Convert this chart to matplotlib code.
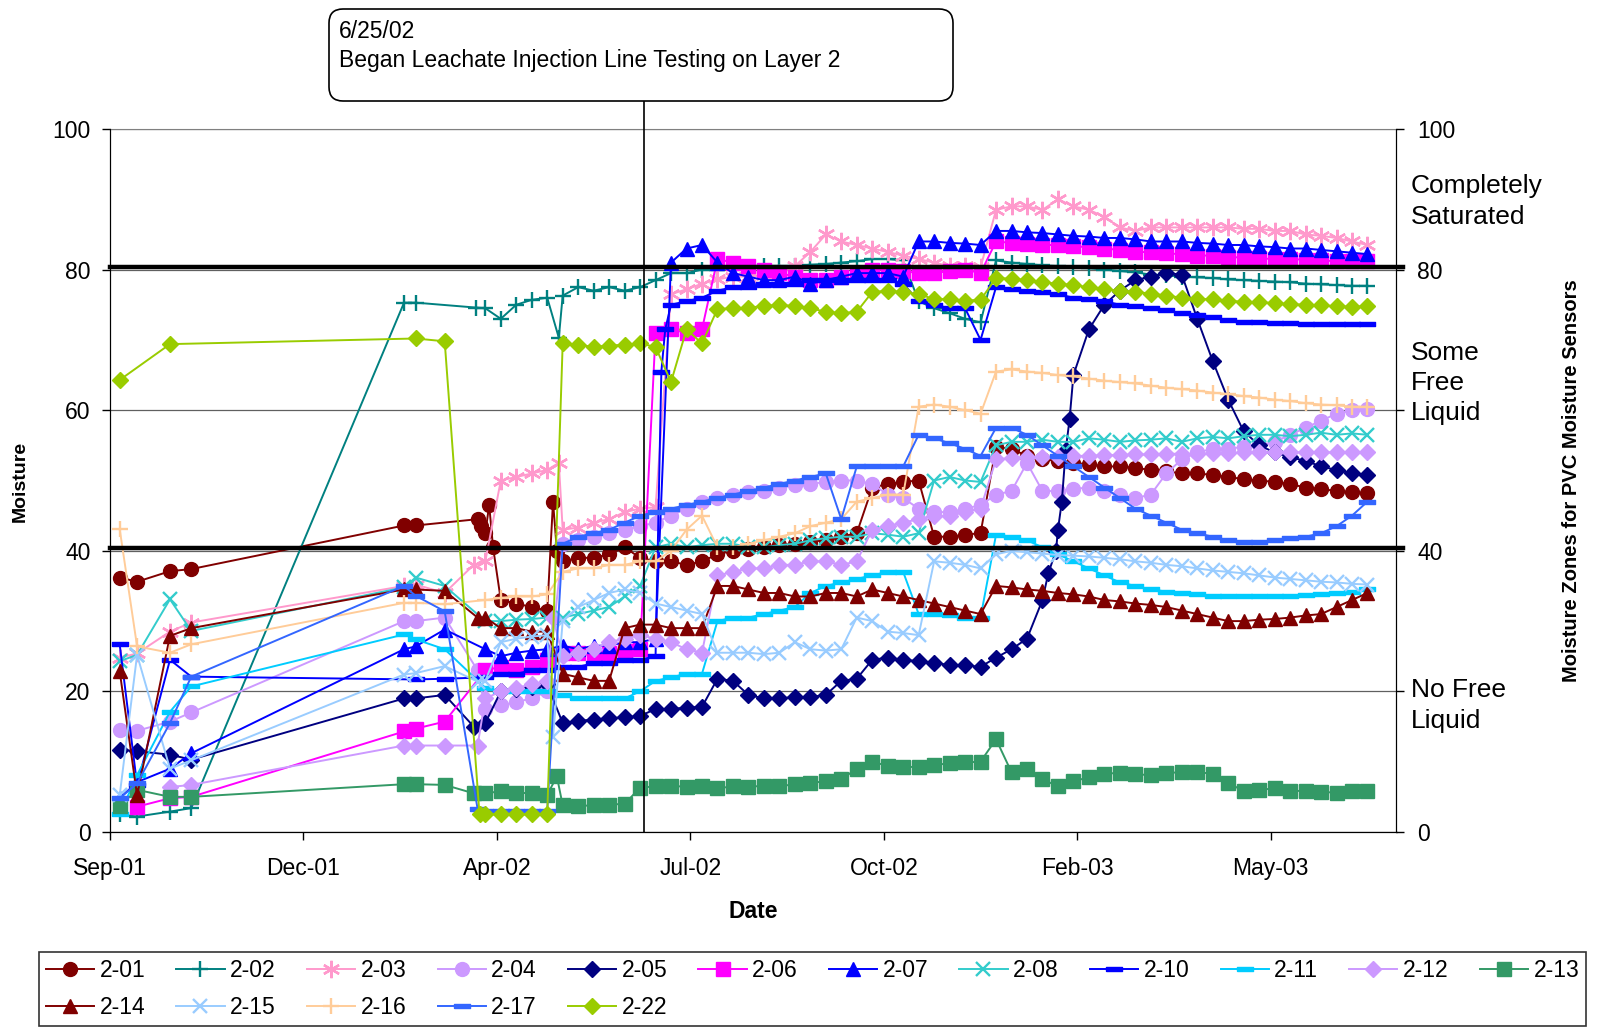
import numpy as np
import matplotlib
matplotlib.use("Agg")
import matplotlib.pyplot as plt
import matplotlib.dates as mdates
from matplotlib.patches import FancyBboxPatch
from matplotlib.transforms import IdentityTransform, blended_transform_factory

plt.rcParams['font.family'] = ['Liberation Sans', 'DejaVu Sans']

# readings are kept as days after the first axis tick (22 Sep 2001)
start = np.datetime64('2001-09-22')
# dense logger period, one reading every 8 days
grid_days = np.arange(194, 651, 8)

# ---- 2-01
e201_days = [5, 14, 31, 42, 152, 158, 190, 192, 196, 198, 229, 231]
e201_vals = [36.2, 35.6, 37.1, 37.4, 43.6, 43.6, 44.5, 43.5, 46.5, 40.5, 47.0, 40.0]
g201 = [42.5, 33.0, 32.5, 32.0, 31.5, 38.5, 39.0, 39.0, 39.5, 40.5,
        39.0, 38.5, 38.5, 38.0, 38.5, 39.5, 40.0, 40.3, 40.5, 40.8,
        41.0, 41.3, 41.5, 42.0, 42.5, 49.0, 49.5, 49.8, 50.0, 42.0,
        42.0, 42.3, 42.5, 54.8, 54.5, 53.5, 53.0, 52.8, 52.5, 52.3,
        52.0, 52.0, 51.8, 51.5, 51.3, 51.0, 51.0, 50.8, 50.5, 50.2,
        50.0, 49.8, 49.5, 49.0, 48.8, 48.5, 48.3, 48.2]
# ---- 2-02
e202_days = [5, 14, 31, 42, 152, 158, 189, 232]
e202_vals = [2.5, 2.2, 2.9, 3.4, 75.3, 75.3, 74.6, 70.3]
g202 = [74.5, 73.0, 75.0, 75.7, 76.0, 76.3, 77.5, 77.0, 77.5, 77.0,
        77.5, 78.5, 79.5, 79.5, 80.0, 80.0, 80.2, 80.3, 80.5, 80.5,
        80.5, 80.7, 80.8, 81.0, 81.2, 81.5, 81.5, 81.3, 75.5, 74.5,
        73.8, 73.0, 72.5, 81.3, 81.0, 80.8, 80.6, 80.5, 80.3, 80.2,
        80.0, 79.8, 79.6, 79.3, 79.2, 79.0, 78.9, 78.8, 78.6, 78.5,
        78.4, 78.3, 78.2, 78.0, 77.9, 77.8, 77.7, 77.7]
# ---- 2-03
e203_days = [5, 14, 31, 42, 152, 158, 173, 188, 232]
e203_vals = [24.8, 25.4, 28.5, 29.8, 35.0, 35.2, 34.0, 38.0, 52.5]
g203 = [38.5, 50.0, 50.5, 51.0, 51.5, 43.0, 43.3, 44.0, 44.5, 45.5,
        46.0, 46.2, 76.5, 77.2, 78.0, 78.6, 79.0, 79.0, 79.2, 79.5,
        80.5, 82.5, 85.0, 84.0, 83.5, 83.0, 82.5, 82.0, 81.5, 81.0,
        80.5, 80.5, 80.3, 88.5, 89.0, 89.0, 88.5, 90.0, 89.0, 88.5,
        87.5, 86.0, 85.5, 86.0, 86.0, 86.0, 86.0, 86.0, 86.0, 85.8,
        85.8, 85.5, 85.5, 85.0, 84.8, 84.5, 84.0, 83.5]
# ---- 2-04
e204_days = [5, 14, 31, 42, 152, 158, 173, 190]
e204_vals = [14.5, 14.4, 15.7, 17.0, 30.0, 30.0, 30.5, 23.0]
g204 = [17.5, 18.0, 18.5, 19.0, 20.0, 41.0, 41.5, 42.0, 42.5, 43.0,
        43.5, 44.0, 45.0, 46.0, 47.0, 47.5, 48.0, 48.3, 48.5, 49.0,
        49.3, 49.5, 49.8, 50.0, 50.0, 49.5, 48.0, 47.5, 46.0, 45.5,
        45.5, 46.0, 46.5, 48.0, 48.5, 52.5, 48.5, 48.5, 48.8, 49.0,
        48.5, 48.0, 47.5, 48.0, 51.0, 53.0, 54.0, 54.5, 54.5, 54.8,
        55.0, 55.5, 56.5, 57.5, 58.5, 59.5, 60.0, 60.2]
# ---- 2-05
e205_days = [5, 14, 31, 42, 152, 158, 173, 188, 485, 489, 492, 494, 496]
e205_vals = [11.7, 11.5, 11.0, 10.3, 19.0, 19.0, 19.5, 15.0, 36.8, 40.0, 47.0, 54.3, 58.7]
g205 = [15.5, 20.0, 20.3, 20.6, 21.0, 15.5, 15.8, 16.0, 16.2, 16.3,
        16.5, 17.5, 17.5, 17.7, 17.8, 21.8, 21.5, 19.5, 19.0, 19.0,
        19.2, 19.2, 19.5, 21.5, 21.8, 24.5, 24.8, 24.5, 24.3, 24.0,
        23.8, 23.7, 23.5, 24.8, 26.0, 27.5, 33.0, 43.0, 65.0, 71.5,
        75.0, 77.0, 78.5, 79.0, 79.5, 79.3, 73.0, 67.0, 61.5, 57.0,
        55.0, 54.0, 53.3, 52.8, 52.0, 51.5, 51.0, 50.8]
# ---- 2-06
e206_days = [14, 31, 42, 152, 158, 173]
e206_vals = [3.6, 4.8, 5.0, 14.3, 14.7, 15.7]
g206 = [23.0, 23.5, 23.0, 23.5, 24.5, 25.5, 25.5, 25.0, 25.5, 25.8,
        26.0, 71.0, 71.5, 71.0, 71.5, 81.5, 81.0, 80.5, 80.0, 79.5,
        79.0, 78.5, 78.5, 79.0, 79.5, 80.0, 80.0, 79.8, 79.5, 79.5,
        79.8, 80.0, 79.5, 84.0, 83.8, 83.6, 83.5, 83.5, 83.3, 83.2,
        83.0, 82.8, 82.5, 82.5, 82.3, 82.2, 82.0, 82.0, 81.8, 81.7,
        81.6, 81.5, 81.5, 81.4, 81.3, 81.2, 81.2, 81.2]
# ---- 2-07
e207_days = [5, 14, 31, 42, 152, 158, 173]
e207_vals = [4.8, 7.1, 9.0, 11.2, 26.0, 26.4, 28.8]
g207 = [26.0, 25.0, 25.5, 25.8, 26.0, 26.5, 26.0, 26.5, 26.5, 27.0,
        27.0, 27.5, 81.0, 83.0, 83.5, 81.0, 79.5, 79.0, 78.5, 78.5,
        79.0, 78.0, 78.5, 79.0, 79.5, 79.5, 79.5, 79.0, 84.0, 84.0,
        83.8, 83.7, 83.5, 85.5, 85.5, 85.3, 85.2, 85.0, 84.8, 84.7,
        84.5, 84.5, 84.3, 84.0, 84.0, 84.0, 83.8, 83.7, 83.5, 83.5,
        83.3, 83.2, 83.0, 83.0, 82.8, 82.6, 82.4, 82.2]
# ---- 2-08
e208_days = [5, 14, 31, 42, 152, 158, 173]
e208_vals = [24.3, 25.2, 33.1, 28.6, 34.8, 36.2, 35.0]
g208 = [30.0, 30.0, 30.2, 30.3, 30.5, 30.5, 31.0, 31.5, 32.0, 33.5,
        35.0, 40.5, 41.0, 40.5, 40.8, 41.0, 41.0, 40.5, 40.5, 40.8,
        41.0, 41.5, 41.8, 42.0, 42.0, 42.5, 42.3, 42.0, 42.5, 50.0,
        50.5, 50.0, 49.8, 55.0, 55.5, 55.5, 55.8, 55.5, 55.5, 56.0,
        55.8, 55.5, 55.7, 55.8, 56.0, 55.5, 56.0, 56.2, 56.0, 56.3,
        56.5, 56.5, 56.3, 56.5, 56.8, 56.5, 56.7, 56.5]
# ---- 2-10
e210_days = [5, 14, 31, 42, 158, 173, 285, 287]
e210_vals = [26.7, 6.7, 24.5, 22.1, 21.7, 21.8, 65.5, 71.5]
g210 = [22.0, 22.5, 22.5, 23.0, 23.0, 23.5, 23.5, 24.0, 24.0, 24.5,
        24.5, 25.0, 75.0, 75.5, 76.0, 77.0, 77.5, 77.5, 78.0, 78.0,
        78.0, 78.5, 78.5, 78.5, 78.5, 78.5, 78.5, 78.0, 75.5, 75.0,
        74.5, 74.5, 70.0, 77.5, 77.3, 77.0, 76.8, 76.5, 76.0, 75.8,
        75.5, 75.0, 74.8, 74.5, 74.2, 73.8, 73.5, 73.2, 72.8, 72.6,
        72.5, 72.4, 72.4, 72.3, 72.3, 72.3, 72.3, 72.3]
# ---- 2-11
e211_days = [5, 14, 31, 42, 152, 158, 173]
e211_vals = [2.5, 8.1, 17.1, 20.7, 28.1, 27.4, 26.0]
g211 = [20.5, 20.0, 20.0, 20.0, 20.0, 19.5, 19.0, 19.0, 19.0, 19.0,
        20.0, 21.5, 22.0, 22.5, 22.5, 30.0, 30.5, 30.5, 31.0, 31.5,
        32.0, 34.0, 35.0, 35.5, 36.0, 36.5, 37.0, 37.0, 31.0, 31.0,
        30.8, 30.5, 30.5, 42.3, 42.0, 41.5, 40.5, 39.5, 38.5, 37.5,
        36.5, 35.5, 35.0, 34.5, 34.2, 34.0, 33.8, 33.6, 33.5, 33.5,
        33.5, 33.5, 33.6, 33.7, 33.8, 34.0, 34.2, 34.5]
# ---- 2-12
e212_days = [31, 42, 152, 158, 173, 190, 229]
e212_vals = [6.4, 6.7, 12.3, 12.3, 12.3, 12.3, 30.5]
g212 = [19.0, 20.0, 20.5, 21.0, 21.5, 25.0, 25.5, 26.0, 27.0, 27.5,
        28.0, 27.5, 27.0, 26.0, 25.5, 36.5, 37.0, 37.5, 37.5, 38.0,
        38.0, 38.5, 38.5, 38.0, 38.5, 43.0, 43.5, 44.0, 44.5, 45.0,
        45.0, 45.5, 46.0, 53.0, 53.2, 53.3, 53.3, 53.4, 53.5, 53.5,
        53.6, 53.6, 53.7, 53.7, 53.8, 53.8, 53.8, 53.9, 53.9, 54.0,
        54.0, 54.0, 54.0, 54.0, 54.0, 54.0, 54.0, 54.0]
# ---- 2-13
e213_days = [5, 14, 31, 42, 152, 158, 173, 188, 231]
e213_vals = [3.7, 6.0, 5.0, 5.0, 6.8, 6.8, 6.7, 5.5, 7.9]
g213 = [5.5, 5.8, 5.6, 5.5, 5.3, 3.8, 3.7, 3.8, 3.9, 4.0,
        6.3, 6.5, 6.6, 6.4, 6.5, 6.2, 6.5, 6.4, 6.6, 6.5,
        6.8, 7.0, 7.2, 7.5, 9.0, 10.0, 9.4, 9.2, 9.3, 9.5,
        9.8, 9.9, 10.0, 13.2, 8.5, 9.0, 7.5, 6.5, 7.2, 7.8,
        8.3, 8.4, 8.2, 8.1, 8.4, 8.5, 8.5, 8.3, 7.0, 5.8,
        6.0, 6.2, 5.9, 5.8, 5.7, 5.6, 5.8, 5.9]
# ---- 2-14
e214_days = [5, 14, 31, 42, 152, 158, 173, 190]
e214_vals = [22.9, 5.2, 27.9, 29.0, 34.5, 34.5, 34.3, 30.5]
g214 = [30.5, 29.0, 29.0, 28.5, 28.5, 22.5, 22.0, 21.5, 21.5, 29.0,
        29.5, 29.5, 29.0, 29.0, 29.0, 35.0, 35.0, 34.5, 34.0, 34.0,
        33.5, 33.5, 34.0, 34.0, 33.5, 34.5, 34.0, 33.5, 33.0, 32.5,
        32.0, 31.5, 31.0, 35.0, 34.8, 34.5, 34.3, 34.0, 33.8, 33.5,
        33.0, 32.8, 32.5, 32.3, 32.0, 31.5, 31.0, 30.5, 30.0, 30.0,
        30.2, 30.3, 30.5, 30.8, 31.0, 32.0, 33.0, 34.0]
# ---- 2-15
e215_days = [5, 14, 31, 42, 152, 158, 173, 190, 229]
e215_vals = [5.2, 25.2, 9.0, 10.2, 22.4, 22.6, 23.6, 21.4, 13.5]
g215 = [21.5, 27.0, 27.5, 27.8, 28.0, 30.0, 32.0, 33.0, 34.0, 34.5,
        34.0, 32.5, 32.0, 31.5, 31.0, 25.5, 25.5, 25.5, 25.3, 25.5,
        27.0, 26.0, 25.8, 26.0, 30.5, 30.0, 28.5, 28.3, 28.0, 38.5,
        38.3, 38.0, 37.5, 39.5, 40.0, 39.8, 39.6, 39.4, 39.3, 39.2,
        39.0, 38.8, 38.5, 38.3, 38.0, 37.8, 37.5, 37.2, 37.0, 36.8,
        36.5, 36.2, 36.0, 35.8, 35.6, 35.5, 35.3, 35.2]
# ---- 2-16
e216_days = [5, 14, 31, 42, 152, 158, 173]
e216_vals = [43.1, 26.4, 25.5, 26.7, 32.6, 32.6, 32.4]
g216 = [33.0, 33.3, 33.5, 33.5, 33.8, 37.0, 37.5, 37.5, 38.0, 38.0,
        38.5, 38.5, 40.0, 43.0, 45.0, 40.5, 40.5, 41.0, 41.5, 42.0,
        42.5, 43.5, 44.0, 44.5, 47.0, 47.5, 48.0, 48.0, 60.5, 60.8,
        60.5, 60.0, 59.5, 65.5, 65.8, 65.5, 65.3, 65.0, 64.8, 64.5,
        64.2, 64.0, 63.8, 63.5, 63.2, 63.0, 62.8, 62.5, 62.3, 62.0,
        61.8, 61.5, 61.3, 61.0, 60.8, 60.7, 60.5, 60.5]
# ---- 2-17
e217_days = [5, 14, 31, 42, 152, 158, 173, 190]
e217_vals = [4.8, 6.9, 15.5, 22.1, 35.0, 33.6, 31.4, 3.3]
g217 = [3.0, 3.0, 3.0, 3.0, 3.0, 41.0, 42.0, 42.5, 43.0, 44.0,
        45.0, 45.5, 46.0, 46.5, 47.0, 47.5, 48.0, 48.5, 49.0, 49.5,
        50.0, 50.5, 51.0, 44.5, 52.0, 52.0, 52.0, 52.0, 56.5, 56.0,
        55.3, 54.5, 53.5, 57.5, 57.5, 56.5, 55.0, 53.5, 52.0, 50.5,
        49.0, 47.5, 46.0, 45.0, 44.0, 43.0, 42.5, 42.0, 41.5, 41.3,
        41.3, 41.5, 41.8, 42.0, 42.5, 43.5, 45.0, 47.0]
# ---- 2-22
e222_days = [5, 31, 158, 173, 191]
e222_vals = [64.3, 69.4, 70.2, 69.8, 2.5]
g222 = [2.5, 2.5, 2.5, 2.5, 2.5, 69.5, 69.3, 69.0, 69.2, 69.3,
        69.5, 69.0, 64.0, 71.5, 69.5, 74.4, 74.5, 74.6, 74.8, 75.0,
        74.8, 74.5, 74.0, 73.8, 74.0, 76.8, 77.0, 76.8, 76.5, 75.8,
        75.8, 75.6, 75.7, 78.8, 78.7, 78.5, 78.2, 78.0, 77.8, 77.5,
        77.2, 77.0, 76.8, 76.6, 76.3, 76.0, 75.8, 75.8, 75.6, 75.4,
        75.4, 75.2, 75.1, 75.0, 74.9, 74.8, 74.7, 74.8]

tick_days = [0, 100, 200, 300, 400, 500, 600]
event_day = 276  # 6/25/02

dash = [(-1, -0.3), (1, -0.3), (1, 0.3), (-1, 0.3), (-1, -0.3)]
star = (6, 2, 0)

series = [
    ("2-01", e201_days, e201_vals, g201, "#800000", "o", 10),
    ("2-02", e202_days, e202_vals, g202, "#008080", "+", 11.5),
    ("2-03", e203_days, e203_vals, g203, "#FF99CC", star, 12.5),
    ("2-04", e204_days, e204_vals, g204, "#CC99FF", "o", 10),
    ("2-05", e205_days, e205_vals, g205, "#000080", "D", 8.5),
    ("2-06", e206_days, e206_vals, g206, "#FF00FF", "s", 9.5),
    ("2-07", e207_days, e207_vals, g207, "#0000FF", "^", 10.5),
    ("2-08", e208_days, e208_vals, g208, "#33CCCC", "x", 10.5),
    ("2-10", e210_days, e210_vals, g210, "#0000FF", dash, 11),
    ("2-11", e211_days, e211_vals, g211, "#00CCFF", dash, 11),
    ("2-12", e212_days, e212_vals, g212, "#CC99FF", "D", 8.5),
    ("2-13", e213_days, e213_vals, g213, "#339966", "s", 9.5),
    ("2-14", e214_days, e214_vals, g214, "#800000", "^", 10.5),
    ("2-15", e215_days, e215_vals, g215, "#99CCFF", "x", 10.5),
    ("2-16", e216_days, e216_vals, g216, "#FFCC99", "+", 11.5),
    ("2-17", e217_days, e217_vals, g217, "#3366FF", dash, 11),
    ("2-22", e222_days, e222_vals, g222, "#99CC00", "D", 8.5),
]


def to_dates(days):
    return start + np.asarray(days, dtype=int).astype('timedelta64[D]')


W, H = 1606, 1029
fig = plt.figure(figsize=(W / 100, H / 100), dpi=100)
ax = fig.add_axes([110 / W, 1 - 832 / H, 1286.5 / W, 703 / H])

handles = {}
for name, ed, ev, gv, col, mk, ms in series:
    d = np.concatenate([np.array(ed, dtype=float), grid_days])
    v = np.concatenate([np.array(ev, dtype=float), np.array(gv, dtype=float)])
    order = np.argsort(d, kind="stable")
    thin = mk in ("+", "x", star)
    ln, = ax.plot(to_dates(d[order]), v[order], color=col, lw=1.4, marker=mk, ms=ms,
                  mfc=col, mec=col, mew=1.7 if thin else 1.0, label=name)
    handles[name] = ln

ax.set_xlim(to_dates([0])[0], to_dates([665])[0])
ax.set_ylim(0, 100)
ax.set_xticks(to_dates(tick_days))
ax.xaxis.set_major_formatter(mdates.DateFormatter('%b-%y'))
ax.set_yticks([0, 20, 40, 60, 80, 100])
ax.tick_params(axis='x', labelsize=16.5, length=6, pad=12, width=1)
ax.tick_params(axis='y', labelsize=16.5, length=6, pad=8, width=1)
ax.grid(axis='y', color='#606060', lw=0.9, zorder=0)
ax.set_axisbelow(True)
for s in ('left', 'bottom'):
    ax.spines[s].set_color('black')
ax.spines['top'].set_color('#808080')

# zone boundaries
for yb in (80.4, 40.4):
    ax.plot([0, 1.005], [yb, yb], color='black', lw=3.2,
            transform=blended_transform_factory(ax.transAxes, ax.transData),
            clip_on=False, zorder=6)

# event line from the x axis up to the note
ed = to_dates([event_day])[0]
ax.plot([ed, ed], [0, 104], color='black', lw=1.2, clip_on=False, zorder=6)

ax2 = ax.twinx()
ax2.set_ylim(0, 100)
ax2.set_yticks([0, 20, 40, 60, 80, 100])
ax2.set_yticklabels(['0', '', '40', '', '80', '100'])
ax2.tick_params(axis='y', labelsize=16.5, length=6, pad=9, width=1)
ax2.spines['top'].set_visible(False)

tr = blended_transform_factory(ax2.transAxes, ax2.transData)
zone_kw = dict(transform=tr, fontsize=19, va='center', ha='left', linespacing=1.33)
ax2.text(1.0113, 89.7, "Completely\nSaturated", **zone_kw)
ax2.text(1.0113, 63.9, "Some\nFree\nLiquid", **zone_kw)
ax2.text(1.0113, 18.0, "No Free\nLiquid", **zone_kw)

fig.text(20 / W, 1 - 481 / H, "Moisture", rotation=90, fontsize=14,
         fontweight='bold', ha='center', va='center')
fig.text(1572 / W, 1 - 481 / H, "Moisture Zones for PVC Moisture Sensors",
         rotation=90, fontsize=14.5, fontweight='bold', ha='center', va='center')
fig.text(753 / W, 1 - 911 / H, "Date", fontsize=16.5, fontweight='bold',
         ha='center', va='center')

# note box
box = FancyBboxPatch((329, H - 101), 624, 92, boxstyle="round,pad=0,rounding_size=14",
                     transform=IdentityTransform(), fc='white', ec='black', lw=1.2)
fig.add_artist(box)
fig.text(339 / W, 1 - 32 / H, "6/25/02", fontsize=16.5, va='center', ha='left')
fig.text(339 / W, 1 - 61 / H, "Began Leachate Injection Line Testing on Layer 2",
         fontsize=16.5, va='center', ha='left')

# legend is filled column by column, so interleave to read row by row
leg_order = ["2-01", "2-14", "2-02", "2-15", "2-03", "2-16", "2-04", "2-17",
             "2-05", "2-22", "2-06", "2-07", "2-08", "2-10", "2-11", "2-12", "2-13"]
leg = fig.legend([handles[n] for n in leg_order], leg_order, ncol=12, loc='lower left',
                 bbox_to_anchor=(39 / W, 3 / H), frameon=True, fancybox=False,
                 edgecolor='black', fontsize=16.5, handlelength=2.1, handletextpad=0.25,
                 columnspacing=1.35, borderpad=0.3, labelspacing=0.62, borderaxespad=0)
leg.get_frame().set_linewidth(1.2)

fig.savefig("out.png", dpi=100)
